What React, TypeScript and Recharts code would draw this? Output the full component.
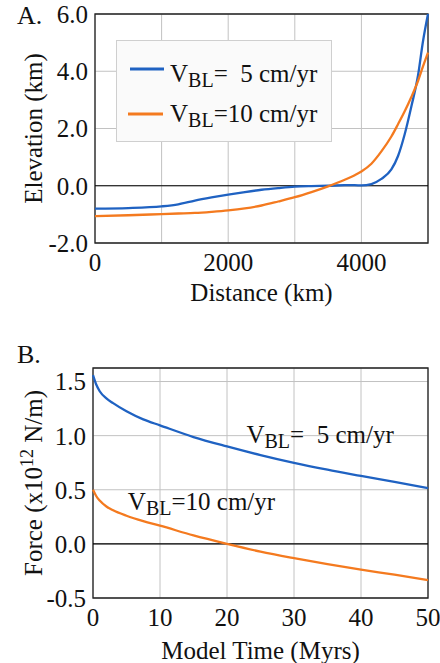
import React from 'react';
import {
  LineChart,
  Line,
  XAxis,
  YAxis,
  CartesianGrid,
  ReferenceLine,
  ReferenceArea,
  ReferenceDot,
  Legend,
} from 'recharts';

// ---------- Panel A data ----------
const distanceKm = [0, 500, 1000, 1250, 1500, 1750, 2000, 2250, 2500, 2750, 3000, 3250, 3500, 3750, 3900, 4000, 4150, 4300, 4450, 4550, 4650, 4750, 4850, 4925, 5000];
const elevation5 = [-0.8, -0.78, -0.72, -0.65, -0.52, -0.41, -0.31, -0.22, -0.14, -0.08, -0.03, -0.01, 0.0, 0.02, 0.02, 0.01, 0.06, 0.24, 0.57, 1.04, 1.8, 2.77, 3.85, 5.05, 6.0];
const elevation10 = [-1.06, -1.03, -0.99, -0.97, -0.95, -0.91, -0.86, -0.79, -0.69, -0.55, -0.4, -0.22, -0.02, 0.21, 0.37, 0.5, 0.77, 1.2, 1.72, 2.15, 2.6, 3.1, 3.66, 4.17, 4.65];
const elevTicks = [-2, 0, 2, 4, 6];
const distTicks = [0, 1000, 2000, 3000, 4000, 5000];
const distLabelTicks = [0, 2000, 4000];

// ---------- Panel B data ----------
const timeMyr = [0, 0.5, 1, 2, 3, 5, 7.5, 10, 15, 20, 25, 30, 35, 40, 45, 50];
const force5 = [1.56, 1.47, 1.41, 1.345, 1.3, 1.225, 1.15, 1.095, 0.987, 0.9, 0.82, 0.748, 0.685, 0.628, 0.572, 0.515];
const force10 = [0.5, 0.44, 0.4, 0.345, 0.31, 0.26, 0.21, 0.168, 0.078, 0.0, -0.072, -0.132, -0.187, -0.238, -0.285, -0.335];
const forceTicks = [-0.5, 0, 0.5, 1, 1.5];
const timeTicks = [0, 10, 20, 30, 40, 50];

const seriesKeys = ['v5', 'v10'];
const seriesRates = ['=  5 cm/yr', '=10 cm/yr'];

const elevData = distanceKm.map((d, i) => ({ d, v5: elevation5[i], v10: elevation10[i] }));
const forceData = timeMyr.map((t, i) => ({ t, v5: force5[i], v10: force10[i] }));

const BLUE = '#1f62c2';
const ORANGE = '#f47a1f';
const FONT = '"Liberation Serif", "Times New Roman", Times, serif';
const FS = 25;
const GRID = '#c2c2c2';
const TEXT = '#111';

const tickStyle = { fontFamily: FONT, fontSize: FS, fill: TEXT, style: { fontFamily: FONT } };

const VblText = ({ x, y, rest }: { x: number; y: number; rest: string }) => (
  <text x={x} y={y} fontFamily={FONT} fontSize={FS} fill={TEXT} style={{ whiteSpace: 'pre', fontFamily: FONT }}>
    V
    <tspan fontSize={20} dy={5}>BL</tspan>
    <tspan dy={-5}>{rest}</tspan>
  </text>
);

const renderLegend = (props: any) => {
  const payload = [...(props.payload || [])].sort(
    (a: any, b: any) => seriesKeys.indexOf(a.dataKey) - seriesKeys.indexOf(b.dataKey)
  );
  const rows = [
    { ly: 28, lx1: 13, lx2: 47, ty: 40.7 },
    { ly: 73, lx1: 11, lx2: 46, ty: 81.3 },
  ];
  return (
    <div
      style={{
        width: 216,
        height: 102,
        background: '#fafafa',
        border: '1px solid #cfcfcf',
        boxSizing: 'border-box',
      }}
    >
      <svg width={214} height={100} style={{ display: 'block' }}>
        {payload.map((p: any, i: number) => {
          const idx = Math.max(0, seriesKeys.indexOf(p.dataKey));
          const r = rows[idx];
          return (
            <g key={p.dataKey || i}>
              <line x1={r.lx1} x2={r.lx2} y1={r.ly} y2={r.ly} stroke={p.color} strokeWidth={3} />
              <VblText x={53} y={r.ty} rest={seriesRates[idx]} />
            </g>
          );
        })}
      </svg>
    </div>
  );
};

const PanelYLabel = (letter: string, kind: 'elev' | 'force', letterY: number) => (props: any) => {
  const vb = props.viewBox || { x: 0, y: 0, width: 0, height: 0 };
  const x = vb.x + 42;
  const cy = vb.y + vb.height / 2;
  return (
    <g style={{ fontFamily: FONT }}>
      <text x={vb.x + 17} y={letterY} fontFamily={FONT} fontSize={FS + 1} fill={TEXT}>
        {letter}
      </text>
      <text
        x={x}
        y={cy}
        transform={`rotate(-90, ${x}, ${cy})`}
        textAnchor="middle"
        fontFamily={FONT}
        fontSize={FS}
        fill={TEXT}
      >
        {kind === 'elev' ? (
          'Elevation (km)'
        ) : (
          <>
            Force (x10
            <tspan fontSize={18} dy={-9}>12</tspan>
            <tspan dy={9}> N/m)</tspan>
          </>
        )}
      </text>
    </g>
  );
};

const XTitle = (title: string, dyBase: number) => (props: any) => {
  const vb = props.viewBox || { x: 0, y: 0, width: 0, height: 0 };
  return (
    <text
      x={vb.x + vb.width / 2}
      y={vb.y + dyBase}
      textAnchor="middle"
      fontFamily={FONT}
      fontSize={FS}
      fill={TEXT}
      style={{ fontFamily: FONT }}
    >
      {title}
    </text>
  );
};

const Annotation = (rest: string) => (props: any) => {
  const vb = props.viewBox || { x: 0, y: 0 };
  return <VblText x={vb.x} y={vb.y} rest={rest} />;
};

export default function App() {
  return (
    <div
      style={{
        position: 'absolute',
        left: 0,
        top: 0,
        width: 440,
        height: 663,
        background: '#fff',
        fontFamily: FONT,
      }}
    >
      <div style={{ position: 'absolute', left: 0, top: 0 }}>
        <LineChart width={440} height={310} data={elevData} margin={{ top: 14, right: 12, bottom: 0, left: 0 }}>
          <CartesianGrid stroke={GRID} strokeWidth={1} />
          <XAxis
            dataKey="d"
            type="number"
            domain={[0, 5000]}
            ticks={distTicks}
            interval={0}
            tickFormatter={(v: number) => (distLabelTicks.includes(v) ? String(v) : '')}
            tick={tickStyle}
            tickLine={false}
            axisLine={false}
            tickSize={0}
            tickMargin={10}
            height={67}
            label={{ content: XTitle('Distance (km)', 58) }}
          />
          <YAxis
            type="number"
            domain={[-2, 6]}
            ticks={elevTicks}
            interval={0}
            tickFormatter={(v: number) => v.toFixed(1)}
            tick={tickStyle}
            tickLine={false}
            axisLine={false}
            tickSize={0}
            tickMargin={7}
            width={95}
            label={{ content: PanelYLabel('A.', 'elev', 24) }}
          />
          <ReferenceLine y={0} stroke="#000" strokeWidth={1.2} />
          <ReferenceArea x1={0} x2={5000} y1={-2} y2={6} fill="none" stroke="#222" strokeWidth={1.3} />
          <Legend
            layout="horizontal"
            verticalAlign="middle"
            align="center"
            content={renderLegend}
            wrapperStyle={{ left: 116, top: 40, width: 216, height: 102 }}
          />
          <Line dataKey="v5" type="monotone" stroke={BLUE} strokeWidth={2.3} dot={false} isAnimationActive={false} />
          <Line dataKey="v10" type="monotone" stroke={ORANGE} strokeWidth={2.3} dot={false} isAnimationActive={false} />
        </LineChart>
      </div>
      <div style={{ position: 'absolute', left: 0, top: 330 }}>
        <LineChart width={440} height={333} data={forceData} margin={{ top: 38, right: 12, bottom: 0, left: 0 }}>
          <CartesianGrid stroke={GRID} strokeWidth={1} />
          <XAxis
            dataKey="t"
            type="number"
            domain={[0, 50]}
            ticks={timeTicks}
            interval={0}
            tick={tickStyle}
            tickLine={false}
            axisLine={false}
            tickSize={0}
            tickMargin={10}
            height={65}
            label={{ content: XTitle('Model Time (Myrs)', 61) }}
          />
          <YAxis
            type="number"
            domain={[-0.5, 1.625]}
            ticks={forceTicks}
            interval={0}
            tickFormatter={(v: number) => v.toFixed(1)}
            tick={tickStyle}
            tickLine={false}
            axisLine={false}
            tickSize={0}
            tickMargin={7}
            width={93}
            label={{ content: PanelYLabel('B.', 'force', 33) }}
          />
          <ReferenceLine y={0} stroke="#000" strokeWidth={1.2} />
          <ReferenceArea x1={0} x2={50} y1={-0.5} y2={1.625} fill="none" stroke="#222" strokeWidth={1.3} />
          <Line dataKey="v5" type="monotone" stroke={BLUE} strokeWidth={2.3} dot={false} isAnimationActive={false} />
          <Line dataKey="v10" type="monotone" stroke={ORANGE} strokeWidth={2.3} dot={false} isAnimationActive={false} />
          <ReferenceDot x={22.9} y={0.935} r={0} fill="none" stroke="none" label={{ content: Annotation(seriesRates[0]) }} />
          <ReferenceDot x={5.2} y={0.313} r={0} fill="none" stroke="none" label={{ content: Annotation(seriesRates[1]) }} />
        </LineChart>
      </div>
    </div>
  );
}
